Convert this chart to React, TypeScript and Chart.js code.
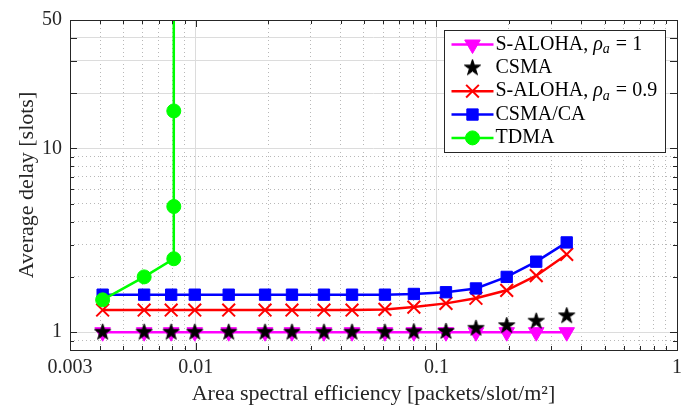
import React, { useEffect, useRef } from 'react';
import { Chart, registerables } from 'chart.js';
import { drawPoint } from 'chart.js/helpers';

Chart.register(...registerables);

// ---------- data ----------
const xValues = [0.0041, 0.0061, 0.0079, 0.0099, 0.0137, 0.0194, 0.0251, 0.0341, 0.0446, 0.0611, 0.0806, 0.1096, 0.146, 0.196, 0.26, 0.348];
const alohaOne = [1, 1, 1, 1, 1, 1, 1, 1, 1, 1, 1, 1, 1, 1, 1, 1];
const csma = [1, 1, 1, 1, 1, 1, 1, 1, 1, 1, 1.005, 1.01, 1.05, 1.085, 1.148, 1.228];
const alohaNine = [1.32, 1.32, 1.32, 1.32, 1.32, 1.32, 1.32, 1.32, 1.32, 1.33, 1.37, 1.435, 1.53, 1.69, 2.03, 2.65];
const csmaCa = [1.6, 1.6, 1.6, 1.6, 1.6, 1.6, 1.6, 1.6, 1.6, 1.6, 1.615, 1.65, 1.73, 2.0, 2.42, 3.08];
const tdmaX = [0.0041, 0.0061, 0.0081, 0.0081, 0.0081, 0.0081];
const tdmaY = [1.5, 2.0, 2.51, 4.83, 16.0, 300];

const seriesLabels = ['S-ALOHA, ρ_a = 1', 'CSMA', 'S-ALOHA, ρ_a = 0.9', 'CSMA/CA', 'TDMA'];

const xTicksMajor = [0.003, 0.01, 0.1, 1];
const xTicksMinor = [0.004, 0.005, 0.006, 0.007, 0.008, 0.009, 0.02, 0.03, 0.04, 0.05, 0.06, 0.07, 0.08, 0.09, 0.2, 0.3, 0.4, 0.5, 0.6, 0.7, 0.8, 0.9];
const xTickLabels = [0.003, 0.01, 0.1, 1];
const yTicksMajor = [1, 10, 20, 30, 40, 50];
const yTicksMinor = [0.9, 2, 3, 4, 5, 6, 7, 8, 9];
const yTickLabels = [1, 10, 50];

const FONT = '"Liberation Serif", "Times New Roman", serif';
const AXIS_COLOR = '#262626';
const MAJOR_GRID = '#dcdcdc';
const MINOR_GRID = '#b8b8b8';

function makeStar(outer: number, color: string): HTMLCanvasElement {
  const pad = 2;
  const size = Math.round(outer * 2 + pad * 2);
  const c = document.createElement('canvas');
  c.width = size;
  c.height = size;
  const g = c.getContext('2d')!;
  const cx = size / 2;
  const cy = size / 2;
  g.beginPath();
  for (let k = 0; k < 10; k++) {
    const r = k % 2 === 0 ? outer : outer * 0.382;
    const a = -Math.PI / 2 + (k * Math.PI) / 5;
    const px = cx + r * Math.cos(a);
    const py = cy + r * Math.sin(a);
    if (k === 0) g.moveTo(px, py);
    else g.lineTo(px, py);
  }
  g.closePath();
  g.fillStyle = color;
  g.fill();
  g.lineWidth = 1;
  g.strokeStyle = color;
  g.lineJoin = 'miter';
  g.stroke();
  return c;
}

function drawRich(ctx: CanvasRenderingContext2D, text: string, x: number, y: number) {
  const parts = text.split(/(ρ|_.)/).filter((p) => p.length > 0);
  let cx = x;
  for (const p of parts) {
    if (p === 'ρ') {
      ctx.font = `italic 20px ${FONT}`;
      ctx.fillText(p, cx, y);
      cx += ctx.measureText(p).width;
    } else if (p.startsWith('_')) {
      const s = p.slice(1);
      ctx.font = `italic 14px ${FONT}`;
      ctx.fillText(s, cx, y + 5);
      cx += ctx.measureText(s).width + 1;
    } else {
      ctx.font = `20px ${FONT}`;
      ctx.fillText(p, cx, y);
      cx += ctx.measureText(p).width;
    }
  }
}

const framePlugin = {
  id: 'matlabFrame',
  afterDraw(chart: any) {
    const ctx: CanvasRenderingContext2D = chart.ctx;
    const area = chart.chartArea;
    const xs = chart.scales.x;
    const ys = chart.scales.y;
    ctx.save();
    ctx.strokeStyle = AXIS_COLOR;
    ctx.lineWidth = 1;
    const drawXT = (v: number, len: number) => {
      const px = Math.round(xs.getPixelForValue(v)) + 0.5;
      ctx.beginPath();
      ctx.moveTo(px, area.bottom);
      ctx.lineTo(px, area.bottom - len);
      ctx.moveTo(px, area.top);
      ctx.lineTo(px, area.top + len);
      ctx.stroke();
    };
    const drawYT = (v: number, len: number) => {
      const py = Math.round(ys.getPixelForValue(v)) + 0.5;
      ctx.beginPath();
      ctx.moveTo(area.left, py);
      ctx.lineTo(area.left + len, py);
      ctx.moveTo(area.right, py);
      ctx.lineTo(area.right - len, py);
      ctx.stroke();
    };
    xTicksMajor.forEach((v) => drawXT(v, 7));
    xTicksMinor.forEach((v) => drawXT(v, 4));
    yTicksMajor.forEach((v) => drawYT(v, 7));
    yTicksMinor.forEach((v) => drawYT(v, 4));
    ctx.strokeRect(Math.round(area.left) + 0.5, Math.round(area.top) + 0.5, Math.round(area.right - area.left), Math.round(area.bottom - area.top));

    // legend
    const bx = Math.round(area.right) - 232.5;
    const by = Math.round(area.top) + 10.5;
    const bw = 221;
    const bh = 122;
    ctx.fillStyle = '#ffffff';
    ctx.fillRect(bx, by, bw, bh);
    ctx.strokeStyle = AXIS_COLOR;
    ctx.lineWidth = 1;
    ctx.strokeRect(bx, by, bw, bh);
    chart.data.datasets.forEach((ds: any, i: number) => {
      const ry = by + 14 + i * 23.35;
      if (ds.showLine !== false) {
        ctx.strokeStyle = ds.borderColor;
        ctx.lineWidth = ds.borderWidth;
        ctx.beginPath();
        ctx.moveTo(bx + 7, ry);
        ctx.lineTo(bx + 49, ry);
        ctx.stroke();
      }
      ctx.fillStyle = ds.pointBackgroundColor;
      ctx.strokeStyle = ds.pointBorderColor;
      ctx.lineWidth = ds.pointBorderWidth;
      drawPoint(ctx, {
        pointStyle: ds.pointStyle,
        radius: ds.pointRadius,
        rotation: ds.pointRotation || 0,
        borderWidth: ds.pointBorderWidth,
      } as any, bx + 28, ry);
      ctx.fillStyle = '#000000';
      ctx.textAlign = 'left';
      ctx.textBaseline = 'middle';
      drawRich(ctx, seriesLabels[i], bx + 51, ry);
    });
    ctx.restore();
  },
};

export default function App() {
  const ref = useRef<HTMLCanvasElement | null>(null);

  useEffect(() => {
    if (!ref.current) return;
    const star = makeStar(8.5, '#000000');
    const pts = (ys: number[]) => xValues.map((x, i) => ({ x, y: ys[i] }));
    const tdma = tdmaX.map((x, i) => ({ x, y: tdmaY[i] }));

    const allX = [...xTicksMajor, ...xTicksMinor].sort((a, b) => a - b);
    const allY = [...yTicksMajor, ...yTicksMinor].sort((a, b) => a - b);

    const gridColor = (major: number[], minor: number[], edges: number[]) => (c: any) => {
      const v = c.tick ? c.tick.value : NaN;
      if (edges.includes(v)) return 'rgba(0,0,0,0)';
      if (major.includes(v)) return MAJOR_GRID;
      if (minor.includes(v)) return MINOR_GRID;
      return 'rgba(0,0,0,0)';
    };
    const gridDash = (minor: number[]) => (c: any) => {
      const v = c.tick ? c.tick.value : NaN;
      return minor.includes(v) ? [1, 3] : [];
    };

    const chart = new Chart(ref.current, {
      type: 'line',
      data: {
        datasets: [
          {
            label: seriesLabels[0],
            data: pts(alohaOne),
            borderColor: '#ff00ff',
            backgroundColor: '#ff00ff',
            pointBackgroundColor: '#ff00ff',
            pointBorderColor: '#ff00ff',
            borderWidth: 2.5,
            pointStyle: 'triangle',
            pointRotation: 180,
            pointRadius: 9,
            pointBorderWidth: 1,
            tension: 0,
            order: 5,
          },
          {
            label: seriesLabels[1],
            data: pts(csma),
            showLine: false,
            borderColor: '#000000',
            backgroundColor: '#000000',
            pointBackgroundColor: '#000000',
            pointBorderColor: '#000000',
            borderWidth: 0,
            pointStyle: star,
            pointRadius: 8,
            pointBorderWidth: 0,
            order: 4,
          },
          {
            label: seriesLabels[2],
            data: pts(alohaNine),
            borderColor: '#ff0000',
            backgroundColor: '#ff0000',
            pointBackgroundColor: '#ff0000',
            pointBorderColor: '#ff0000',
            borderWidth: 2.5,
            pointStyle: 'crossRot',
            pointRadius: 9,
            pointBorderWidth: 2,
            tension: 0,
            order: 3,
          },
          {
            label: seriesLabels[3],
            data: pts(csmaCa),
            borderColor: '#0000ff',
            backgroundColor: '#0000ff',
            pointBackgroundColor: '#0000ff',
            pointBorderColor: '#0000ff',
            borderWidth: 2.5,
            pointStyle: 'rect',
            pointRadius: 8,
            pointBorderWidth: 1,
            tension: 0,
            order: 2,
          },
          {
            label: seriesLabels[4],
            data: tdma,
            borderColor: '#00ff00',
            backgroundColor: '#00ff00',
            pointBackgroundColor: '#00ff00',
            pointBorderColor: '#00ff00',
            borderWidth: 2.5,
            pointStyle: 'circle',
            pointRadius: 7,
            pointBorderWidth: 1,
            tension: 0,
            order: 1,
          },
        ] as any,
      },
      options: {
        animation: false,
        responsive: false,
        maintainAspectRatio: false,
        layout: { padding: { left: 0, top: 19, right: 23, bottom: 0 } },
        plugins: { legend: { display: false }, tooltip: { enabled: false } },
        scales: {
          x: {
            type: 'logarithmic',
            min: 0.003,
            max: 1,
            afterBuildTicks: (s: any) => {
              s.ticks = allX.map((v) => ({ value: v }));
            },
            afterFit: (s: any) => {
              s.height = 61;
            },
            ticks: {
              autoSkip: false,
              maxRotation: 0,
              minRotation: 0,
              padding: 6,
              color: AXIS_COLOR,
              font: { family: FONT, size: 20 },
              callback: (v: any) => (xTickLabels.includes(Number(v)) ? String(v) : ''),
            },
            grid: {
              drawTicks: false,
              lineWidth: 1,
              color: gridColor(xTicksMajor, xTicksMinor, [0.003, 1]),
            },
            border: { display: false, dash: gridDash(xTicksMinor) },
            title: {
              display: true,
              text: 'Area spectral efficiency [packets/slot/m²]',
              color: AXIS_COLOR,
              font: { family: FONT, size: 22 },
              padding: { top: 0, bottom: 4 },
            },
          },
          y: {
            type: 'logarithmic',
            min: 0.8,
            max: 50,
            afterBuildTicks: (s: any) => {
              s.ticks = allY.map((v) => ({ value: v }));
            },
            afterFit: (s: any) => {
              s.width = 70;
            },
            ticks: {
              autoSkip: false,
              padding: 8,
              color: AXIS_COLOR,
              font: { family: FONT, size: 20 },
              callback: (v: any) => (yTickLabels.includes(Number(v)) ? String(v) : ''),
            },
            grid: {
              drawTicks: false,
              lineWidth: 1,
              color: gridColor(yTicksMajor, yTicksMinor, [50]),
            },
            border: { display: false, dash: gridDash(yTicksMinor) },
            title: {
              display: true,
              text: 'Average delay [slots]',
              color: AXIS_COLOR,
              font: { family: FONT, size: 22 },
              padding: { top: 14, bottom: 0 },
            },
          },
        },
      } as any,
      plugins: [framePlugin],
    });
    return () => chart.destroy();
  }, []);

  return (
    <div style={{ position: 'fixed', left: 0, top: 0, width: 700, height: 411, background: '#ffffff' }}>
      <canvas ref={ref} width={700} height={411} style={{ display: 'block', width: 700, height: 411 }} />
    </div>
  );
}
